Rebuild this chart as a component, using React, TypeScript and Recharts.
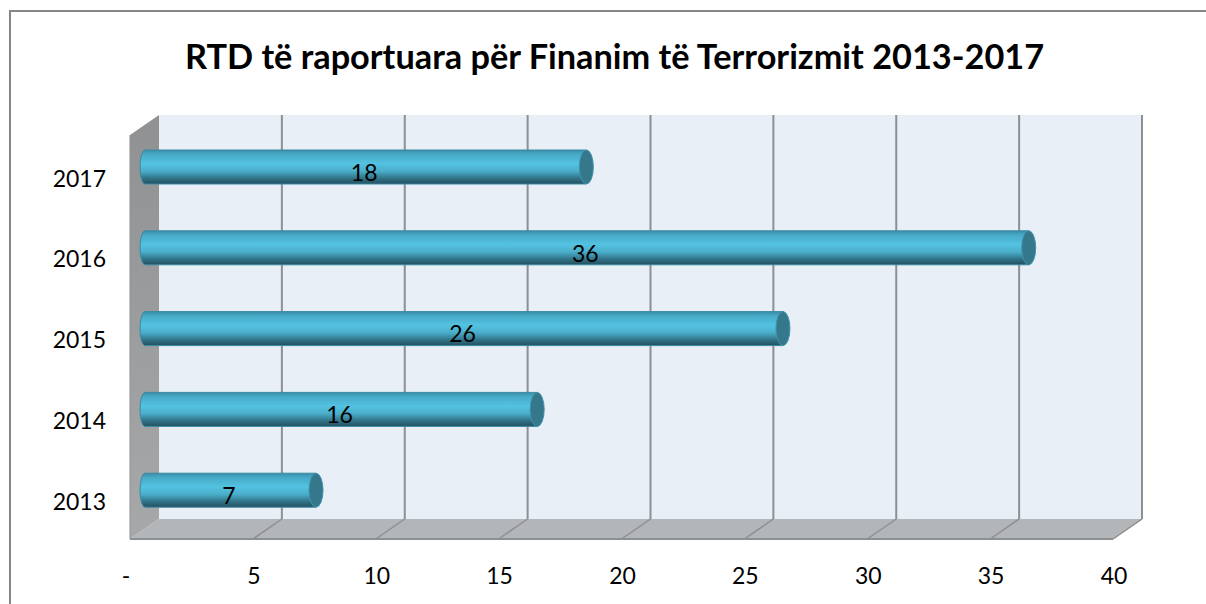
import { BarChart, Bar, XAxis, YAxis, CartesianGrid, ReferenceArea, LabelList } from 'recharts';

const YEARS = ['2017', '2016', '2015', '2014', '2013'];
const VALUES = [18, 36, 26, 16, 7];
const X_TICKS = [0, 5, 10, 15, 20, 25, 30, 35, 40];
const TITLE = 'RTD të raportuara për Finanim të Terrorizmit 2013-2017';

const data = YEARS.map((year, i) => ({ year, value: VALUES[i] }));

const FONT = 'Lato, Carlito, sans-serif';
// 3d depth of the box, between front axis and back wall
const DEPTH_X = 29;
const DEPTH_Y = 20;
// bars sit half way in the box
const BAR_DX = 15;
const BAR_DY = -8;
const LINE = '#8e8f91';

const Walls = ({ x, y, width, height }: any) => {
  const right = x + width;
  const bottom = y + height;
  return (
    <g>
      <polygon
        points={`${x},${y} ${x + DEPTH_X},${y - DEPTH_Y} ${x + DEPTH_X},${bottom - DEPTH_Y} ${x},${bottom}`}
        fill="url(#sideWall)"
      />
      <rect x={x + DEPTH_X} y={y - DEPTH_Y} width={width} height={height} fill="#e8eff6" />
      <polygon
        points={`${x},${bottom} ${x + DEPTH_X},${bottom - DEPTH_Y} ${right + DEPTH_X},${bottom - DEPTH_Y} ${right},${bottom}`}
        fill="#b2b6b9"
      />
      <line x1={x} y1={bottom} x2={right} y2={bottom} stroke={LINE} strokeWidth={2} />
      <line x1={x} y1={y} x2={x} y2={bottom} stroke={LINE} strokeWidth={1} />
      <line x1={right} y1={bottom} x2={right + DEPTH_X} y2={bottom - DEPTH_Y} stroke="#a4a7a9" strokeWidth={1} />
    </g>
  );
};

const GridLine = (props: any) => {
  const { x1, y1, y2, index } = props;
  const top = Math.min(y1, y2) - DEPTH_Y;
  const bottom = Math.max(y1, y2);
  if (index === 0) return <g key="grid-0" />;
  return (
    <g key={`grid-${index}`}>
      <line x1={x1} y1={bottom} x2={x1 + DEPTH_X} y2={bottom - DEPTH_Y} stroke={LINE} strokeWidth={1.5} />
      <line x1={x1 + DEPTH_X} y1={bottom - DEPTH_Y} x2={x1 + DEPTH_X} y2={top} stroke={LINE} strokeWidth={2} />
    </g>
  );
};

const Cylinder = ({ x, y, width, height }: any) => {
  const left = x + BAR_DX;
  const top = y + BAR_DY;
  const right = left + width - 1;
  const ry = height / 2;
  return (
    <g>
      <path
        d={`M${left},${top} L${right},${top} L${right},${top + height} L${left},${top + height} A5,${ry} 0 0 1 ${left},${top} Z`}
        fill="url(#tube)"
        stroke="#3a8aa3"
        strokeWidth={1}
      />
      <ellipse cx={right} cy={top + ry} rx={7} ry={ry} fill="#35788c" stroke="#3f93ad" strokeWidth={1} />
    </g>
  );
};

const ValueLabel = ({ x, y, width, height, value }: any) => (
  <text
    x={x + BAR_DX + width / 2 - 2}
    y={y + height / 2 + BAR_DY + 8}
    textAnchor="middle"
    dominantBaseline="middle"
    fontFamily={FONT}
    fontSize={23}
    fill="#000"
  >
    {value}
  </text>
);

// the zero label is a dash sitting a little left of the axis start
const XTick = ({ x, y, payload }: any) => (
  <text
    x={payload.value === 0 ? x - 4 : x + 1}
    y={y + 1}
    dy="0.71em"
    textAnchor="middle"
    fontFamily={FONT}
    fontSize={23}
    fill="#000"
  >
    {payload.value === 0 ? '-' : payload.value}
  </text>
);

const App = () => {
  return (
    <div style={{ position: 'absolute', left: 0, top: 0, width: 1206, height: 604, overflow: 'hidden', background: '#fff' }}>
      <div
        style={{
          position: 'absolute',
          left: 9,
          top: 10,
          width: 1220,
          height: 620,
          borderLeft: '2px solid #868686',
          borderTop: '2px solid #868686',
        }}
      />
      <div
        style={{
          position: 'absolute',
          left: 185,
          top: 35,
          fontFamily: FONT,
          fontWeight: 700,
          fontSize: 34.3,
          color: '#000',
          whiteSpace: 'nowrap',
        }}
      >
        {TITLE}
      </div>
      <div style={{ position: 'absolute', left: 0, top: 0 }}>
        <BarChart
          width={1206}
          height={604}
          data={data}
          layout="vertical"
          margin={{ top: 135, right: 93, bottom: 0, left: 0 }}
        >
          <defs>
            <linearGradient id="tube" x1="0" y1="0" x2="0" y2="1">
              <stop offset="0%" stopColor="#3a8ca6" />
              <stop offset="12%" stopColor="#46a9c6" />
              <stop offset="40%" stopColor="#54c2e2" />
              <stop offset="62%" stopColor="#4aaeca" />
              <stop offset="82%" stopColor="#32768c" />
              <stop offset="100%" stopColor="#234f5e" />
            </linearGradient>
            <linearGradient id="sideWall" x1="0" y1="0" x2="0" y2="1">
              <stop offset="0%" stopColor="#909193" />
              <stop offset="100%" stopColor="#a6a8aa" />
            </linearGradient>
          </defs>
          <ReferenceArea x1={0} x2={40} ifOverflow="visible" shape={Walls} zIndex={-200} />
          <CartesianGrid horizontal={false} vertical={GridLine} />
          <XAxis
            type="number"
            domain={[0, 40]}
            ticks={X_TICKS}
            axisLine={false}
            tickLine={false}
            tickMargin={22}
            height={65}
            interval={0}
            tick={XTick}
          />
          <YAxis
            type="category"
            dataKey="year"
            width={130}
            axisLine={false}
            tickLine={false}
            tickMargin={18}
            dy={3}
            tick={{ fill: '#000', fontFamily: FONT, fontSize: 23 }}
          />
          <Bar dataKey="value" barSize={34} shape={Cylinder} isAnimationActive={false}>
            <LabelList dataKey="value" content={ValueLabel} />
          </Bar>
        </BarChart>
      </div>
    </div>
  );
};

export default App;
